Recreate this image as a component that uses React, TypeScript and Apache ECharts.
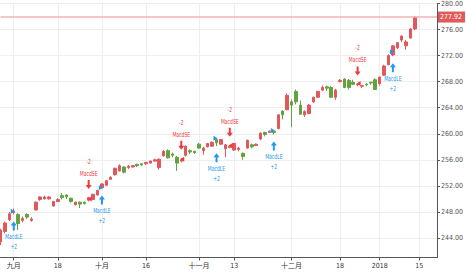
import React, { useEffect, useRef } from "react";
import * as echarts from "echarts";

const dates = [
  "2017-08-29","2017-08-30","2017-08-31","2017-09-01","2017-09-05","2017-09-06","2017-09-07","2017-09-08",
  "2017-09-11","2017-09-12","2017-09-13","2017-09-14","2017-09-15","2017-09-18","2017-09-19","2017-09-20",
  "2017-09-21","2017-09-22","2017-09-25","2017-09-26","2017-09-27","2017-09-28","2017-09-29","2017-10-02",
  "2017-10-03","2017-10-04","2017-10-05","2017-10-06","2017-10-09","2017-10-10","2017-10-11","2017-10-12",
  "2017-10-13","2017-10-16","2017-10-17","2017-10-18","2017-10-19","2017-10-20","2017-10-23","2017-10-24",
  "2017-10-25","2017-10-26","2017-10-27","2017-10-30","2017-10-31","2017-11-01","2017-11-02","2017-11-03",
  "2017-11-06","2017-11-07","2017-11-08","2017-11-09","2017-11-10","2017-11-13","2017-11-14","2017-11-15",
  "2017-11-16","2017-11-17","2017-11-20","2017-11-21","2017-11-22","2017-11-24","2017-11-27","2017-11-28",
  "2017-11-29","2017-11-30","2017-12-01","2017-12-04","2017-12-05","2017-12-06","2017-12-07","2017-12-08",
  "2017-12-11","2017-12-12","2017-12-13","2017-12-14","2017-12-15","2017-12-18","2017-12-19","2017-12-20",
  "2017-12-21","2017-12-22","2017-12-26","2017-12-27","2017-12-28","2017-12-29","2018-01-02","2018-01-03",
  "2018-01-04","2018-01-05","2018-01-08","2018-01-09","2018-01-10","2018-01-11","2018-01-12","2018-01-15",
  "2018-01-16","2018-01-17","2018-01-18","2018-01-19",
];

const opens = [
  243.4,245.0,246.8,247.9,247.6,246.7,247.6,246.7,248.3,249.9,250.0,250.0,248.9,249.6,250.5,250.6,
  250.1,249.1,249.5,249.5,249.8,249.9,250.6,251.7,252.1,253.0,253.7,254.3,254.9,254.8,254.9,255.3,
  255.4,255.4,255.5,255.8,254.8,256.6,257.4,256.9,256.4,255.8,256.7,257.4,257.3,258.4,257.4,258.0,
  258.1,259.1,258.4,257.7,257.9,257.5,257.6,257.0,257.8,258.3,258.2,259.2,260.2,260.2,260.4,260.8,
  263.5,263.7,264.9,266.5,264.4,262.9,263.1,264.9,265.6,266.7,267.2,267.1,265.6,268.0,268.4,268.2,
  267.9,267.5,267.3,267.6,267.9,268.3,267.7,269.0,270.6,272.1,273.2,274.4,273.5,274.7,276.1,
];
const closes = [
  245.2,246.3,247.7,248.1,246.2,247.0,247.2,246.9,249.5,250.3,250.3,250.3,249.6,249.9,250.2,250.3,
  249.6,249.5,249.2,249.3,250.2,250.7,251.3,252.3,252.8,253.3,254.7,255.1,254.1,255.0,255.1,255.1,
  255.2,255.6,255.8,256.0,256.1,257.3,256.3,256.7,255.5,256.0,258.1,257.2,257.1,257.8,257.8,258.5,
  258.7,258.6,259.1,258.3,258.1,258.5,257.8,256.5,259.0,258.0,258.4,260.1,259.9,260.4,260.2,262.9,
  262.9,265.9,264.4,264.9,263.0,263.4,264.4,265.6,266.5,267.1,267.0,265.6,266.7,268.2,267.1,267.1,
  267.6,267.6,267.4,267.5,267.8,266.8,268.7,270.4,272.0,273.5,274.0,275.0,274.1,276.1,277.92,
];
const lows = [
  242.9,244.7,246.6,247.6,245.2,246.4,246.9,246.5,248.2,249.7,249.9,249.9,248.8,249.5,249.9,250.0,
  249.4,249.0,248.6,249.1,249.6,249.8,250.5,251.6,252.0,252.9,253.6,254.2,253.9,254.6,254.8,254.9,
  255.1,255.2,255.4,255.7,254.5,256.5,256.2,256.4,254.3,255.6,256.5,256.9,256.9,257.7,256.8,257.9,
  258.0,258.1,258.3,256.4,257.8,257.4,257.3,256.0,257.7,257.8,258.1,259.0,259.6,260.1,259.9,260.7,
  262.2,263.6,261.0,264.5,262.9,262.6,263.0,264.7,265.5,266.6,266.6,265.5,265.2,267.9,267.0,266.8,
  267.5,267.3,267.0,267.3,267.5,266.7,267.4,268.9,270.5,271.9,273.0,274.1,272.9,274.6,275.9,
];
const highs = [
  245.4,246.5,248.0,248.5,247.8,247.3,247.8,247.2,249.6,250.4,250.5,250.4,249.7,250.1,250.9,250.7,
  250.2,249.6,249.6,249.6,250.3,250.8,251.4,252.4,252.9,253.5,254.8,255.3,255.0,255.2,255.2,255.4,
  255.5,255.7,255.9,256.2,256.2,257.5,257.6,257.1,256.6,256.3,258.2,257.6,257.4,258.6,258.0,258.6,
  258.8,259.3,259.2,258.4,258.3,258.6,258.0,257.1,259.1,258.5,258.5,260.2,260.3,260.5,260.6,263.0,
  263.6,266.2,265.3,266.8,265.1,263.6,264.6,265.7,266.6,267.4,267.4,267.3,266.9,268.4,268.5,268.4,
  268.3,267.7,267.5,267.8,268.0,268.5,268.8,270.6,272.2,273.6,274.1,275.1,274.4,276.2,278.1,
];

const yTicks = [244, 248, 252, 256, 260, 264, 268, 272, 276, 280];

const tickDates = ["2017-09-01","2017-09-18","2017-10-02","2017-10-16","2017-11-01","2017-11-13","2017-12-01","2017-12-18","2018-01-02","2018-01-15"];
const tickTexts = ["九月","18","十月","16","十一月","13","十二月","18","2018","15"];

const signalDates = ["2017-09-01","2017-09-27","2017-10-02","2017-10-26","2017-11-07","2017-11-10","2017-11-27","2017-12-22","2018-01-05"];
const signalSides = ["LE","SE","LE","SE","LE","SE","LE","SE","LE"];
const signalPrices = [248.1, 250.0, 251.7, 256.1, 259.3, 258.2, 260.5, 267.7, 272.6];
const signalNames = { LE: "MacdLE", SE: "MacdSE" };
const signalQty = { LE: "+2", SE: "-2" };

const lastPrice = closes[closes.length - 1];

const UP = "#e0585b";
const DOWN = "#62a33f";
const BLUE = "#2196f3";
const RED = "#f0393c";
const NARROW = '"Liberation Sans Narrow", "DejaVu Sans Condensed", "Liberation Sans", "Noto Sans CJK SC", sans-serif';

export default function App() {
  const ref = useRef<HTMLDivElement>(null);
  useEffect(() => {
    if (!ref.current) return;
    const chart = echarts.init(ref.current, null, { renderer: "svg" });
    const tickMap: Record<string, string> = {};
    tickDates.forEach((d, i) => (tickMap[d] = tickTexts[i]));
    const isTick = (_i: number, v: string) => tickMap[v] !== undefined;

    const candleData = opens.map((o, i) => [o, closes[i], lows[i], highs[i]]);
    const signalData = signalDates.map((d, i) => {
      const idx = dates.indexOf(d);
      const side = signalSides[i];
      return [idx, signalPrices[i], side === "LE" ? lows[idx] : highs[idx], side === "LE" ? 0 : 1];
    });

    const makeText = (text: string, x: number, y: number, fill: string) => ({
      type: "text",
      x,
      y,
      scaleX: 0.72,
      style: {
        text,
        x: 0,
        y: 0,
        fill,
        fontSize: 7,
        fontFamily: NARROW,
        align: "center",
        verticalAlign: "middle",
      },
    });

    const option: any = {
      animation: false,
      backgroundColor: "#ffffff",
      grid: { left: 0.5, right: 19, top: 0, bottom: 17.5 },
      xAxis: {
        type: "category",
        data: dates,
        boundaryGap: false,
        axisLine: { lineStyle: { color: "#555555", width: 1 } },
        axisTick: { interval: isTick, length: 3, lineStyle: { color: "#555555" } },
        axisLabel: {
          interval: isTick,
          formatter: (v: string) => tickMap[v] || "",
          fontSize: 7,
          color: "#333333",
          margin: 5,
          fontFamily: NARROW,
        },
        splitLine: { show: true, interval: isTick, lineStyle: { color: "#eeeeee", width: 1 } },
      },
      yAxis: {
        type: "value",
        position: "right",
        min: 241,
        max: 280,
        axisLine: { show: true, lineStyle: { color: "#555555", width: 1 } },
        axisTick: { show: true, length: 3, customValues: yTicks, lineStyle: { color: "#555555" } },
        axisLabel: {
          customValues: yTicks,
          formatter: (v: number) => v.toFixed(2),
          fontSize: 7,
          color: "#555555",
          margin: 4,
          fontFamily: NARROW,
        },
        splitLine: { show: true, lineStyle: { color: "#eeeeee", width: 1 } },
      },
      series: [
        {
          type: "candlestick",
          data: candleData,
          barWidth: 3,
          itemStyle: {
            color: UP,
            color0: DOWN,
            borderColor: UP,
            borderColor0: DOWN,
            borderWidth: 1,
          },
          markLine: {
            silent: true,
            symbol: "none",
            lineStyle: { color: "#f3b3b3", width: 1.5, type: "solid" },
            label: {
              position: "end",
              formatter: () => lastPrice.toFixed(2),
              backgroundColor: "#e05a5a",
              color: "#ffffff",
              fontSize: 7,
              fontFamily: NARROW,
              padding: [2, 3, 2, 2],
              distance: 1,
            },
            data: [{ yAxis: lastPrice }],
          },
        },
        {
          type: "custom",
          data: signalData,
          silent: true,
          clip: false,
          z: 5,
          renderItem: (_params: any, api: any) => {
            const idx = api.value(0);
            const price = api.value(1);
            const ext = api.value(2);
            const side = api.value(3);
            const [x, py] = api.coord([idx, price]);
            const ey = api.coord([idx, ext])[1];
            const children: any[] = [];
            if (side === 0) {
              const top = ey + 7;
              children.push({
                type: "polygon",
                shape: { points: [[x - 3, py - 2.5], [x - 3, py + 2.5], [x + 1, py]] },
                style: { fill: BLUE },
              });
              children.push({
                type: "polygon",
                shape: {
                  points: [
                    [x, top], [x + 3, top + 4], [x + 1, top + 4], [x + 1, top + 9],
                    [x - 1, top + 9], [x - 1, top + 4], [x - 3, top + 4],
                  ],
                },
                style: { fill: BLUE },
              });
              children.push(makeText(signalNames.LE, x, top + 15, BLUE));
              children.push(makeText(signalQty.LE, x, top + 25, BLUE));
            } else {
              const bot = ey - 8;
              children.push({
                type: "polygon",
                shape: { points: [[x + 3, py - 2.5], [x + 3, py + 2.5], [x - 1, py]] },
                style: { fill: RED },
              });
              children.push({
                type: "polygon",
                shape: {
                  points: [
                    [x, bot], [x + 3, bot - 4], [x + 1, bot - 4], [x + 1, bot - 9],
                    [x - 1, bot - 9], [x - 1, bot - 4], [x - 3, bot - 4],
                  ],
                },
                style: { fill: RED },
              });
              children.push(makeText(signalNames.SE, x, bot - 16, RED));
              children.push(makeText(signalQty.SE, x, bot - 28, RED));
            }
            return { type: "group", children };
          },
        },
      ],
    };
    chart.setOption(option);
    return () => chart.dispose();
  }, []);
  return (
    <div
      ref={ref}
      style={{ position: "fixed", left: 0, top: 0, width: 466, height: 275 }}
    />
  );
}
